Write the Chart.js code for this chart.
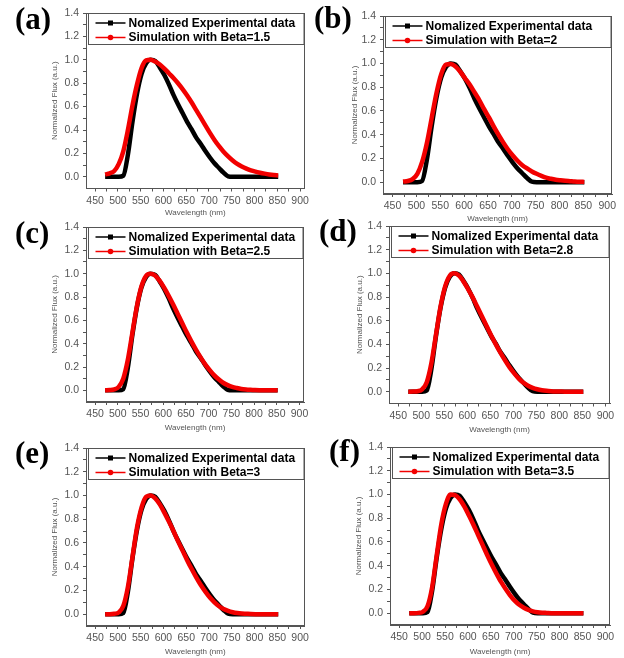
<!DOCTYPE html>
<html>
<head>
<meta charset="utf-8">
<script src="https://cdn.jsdelivr.net/npm/chart.js@4.4.1/dist/chart.umd.min.js"></script>
<style>
  html, body { margin: 0; padding: 0; background: #fff; }
  #wrap { position: relative; width: 624px; height: 658px; overflow: hidden; }
  #wrap canvas { position: absolute; }
  .tag { position: absolute; font: bold 31px "Liberation Serif", "Times New Roman", serif; color: #000; line-height: 30px; }
</style>
</head>
<body>
<div id="wrap"></div>
<script>
// wavelength grid (nm)
const wavelengths = [472, 482, 492, 502, 512, 522, 532, 542, 552, 562, 572, 582, 592, 602, 612, 622, 632, 642, 652,
  662, 672, 682, 692, 702, 712, 722, 732, 742, 752, 762, 772, 782, 792, 802, 812, 822, 832, 842, 852]

// normalized experimental data (same in every panel)
const experimental = [0, 0, 0, 0, 0.01, 0.19, 0.47, 0.71, 0.88, 0.97, 1.0, 0.99, 0.935, 0.87, 0.79, 0.70, 0.62, 0.545, 0.47,
  0.405, 0.335, 0.28, 0.22, 0.165, 0.115, 0.075, 0.035, 0.004, 0, 0, 0, 0, 0, 0, 0, 0, 0, 0, 0]

// simulations
const simBeta15 = [0.02, 0.03, 0.05, 0.11, 0.22, 0.40, 0.61, 0.79, 0.93, 0.995, 1.0, 0.985, 0.96, 0.925, 0.885, 0.845, 0.80, 0.75, 0.695,
  0.635, 0.57, 0.505, 0.44, 0.375, 0.315, 0.262, 0.215, 0.175, 0.14, 0.11, 0.088, 0.07, 0.055, 0.044, 0.035, 0.027, 0.02, 0.015, 0.012]
const simBeta2 = [0.005, 0.01, 0.025, 0.07, 0.17, 0.33, 0.54, 0.75, 0.91, 0.99, 0.995, 0.975, 0.93, 0.875, 0.82, 0.755, 0.69, 0.615, 0.545,
  0.47, 0.40, 0.335, 0.275, 0.225, 0.18, 0.143, 0.115, 0.09, 0.07, 0.053, 0.038, 0.028, 0.02, 0.015, 0.011, 0.008, 0.005, 0.003, 0.002]
const simBeta25 = [0, 0.002, 0.008, 0.03, 0.10, 0.26, 0.49, 0.72, 0.89, 0.98, 1.0, 0.985, 0.94, 0.88, 0.81, 0.735, 0.655, 0.575, 0.495,
  0.42, 0.35, 0.285, 0.225, 0.175, 0.13, 0.095, 0.065, 0.045, 0.03, 0.02, 0.012, 0.007, 0.004, 0.002, 0.001, 0.001, 0, 0, 0]
const simBeta28 = [0, 0.001, 0.004, 0.02, 0.08, 0.24, 0.48, 0.72, 0.89, 0.98, 1.0, 0.98, 0.93, 0.865, 0.795, 0.715, 0.635, 0.555, 0.475,
  0.40, 0.33, 0.265, 0.205, 0.155, 0.11, 0.075, 0.05, 0.032, 0.02, 0.012, 0.007, 0.004, 0.002, 0.001, 0, 0, 0, 0, 0]
const simBeta3 = [0, 0, 0.003, 0.015, 0.07, 0.23, 0.48, 0.73, 0.90, 0.99, 1.0, 0.975, 0.925, 0.855, 0.78, 0.70, 0.615, 0.535, 0.455,
  0.38, 0.31, 0.245, 0.19, 0.14, 0.10, 0.067, 0.043, 0.027, 0.016, 0.009, 0.005, 0.003, 0.001, 0, 0, 0, 0, 0, 0]
const simBeta35 = [0, 0, 0.002, 0.012, 0.06, 0.22, 0.49, 0.75, 0.92, 1.0, 0.995, 0.96, 0.90, 0.825, 0.745, 0.66, 0.575, 0.49, 0.41,
  0.335, 0.265, 0.205, 0.15, 0.105, 0.07, 0.045, 0.027, 0.015, 0.008, 0.004, 0.002, 0, 0, 0, 0, 0, 0, 0, 0]

const betaValues = ['1.5', '2', '2.5', '2.8', '3', '3.5']
const simSeries = [simBeta15, simBeta2, simBeta25, simBeta28, simBeta3, simBeta35]
const panelTags = ['(a)', '(b)', '(c)', '(d)', '(e)', '(f)']

const xTicks = [450, 475, 500, 525, 550, 575, 600, 625, 650, 675, 700, 725, 750, 775, 800, 825, 850, 875, 900]
const yTicks = [0, 0.1, 0.2, 0.3, 0.4, 0.5, 0.6, 0.7, 0.8, 0.9, 1.0, 1.1, 1.2, 1.3, 1.4]

// page layout of each panel: plot box [left, top, right, bottom], axis title spots, tag spot
const layoutBoxes = [
  { col: 0, area: [86, 13, 305, 188.5], yTitleX: 55, xTitleY: 213, tag: [15, 4] },
  { col: 1, area: [383, 16, 612, 194], yTitleX: 355, xTitleY: 219, tag: [314, 3] },
  { col: 0, area: [86, 227, 304, 402], yTitleX: 55, xTitleY: 428, tag: [15, 218] },
  { col: 1, area: [389, 226, 610, 403.5], yTitleX: 360, xTitleY: 430, tag: [319, 216] },
  { col: 0, area: [86, 448, 305, 626], yTitleX: 55, xTitleY: 652, tag: [15, 438] },
  { col: 1, area: [390, 447, 610, 625], yTitleX: 359, xTitleY: 652, tag: [329, 436] },
]

const axisGrey = '#555'
const textGrey = '#555'

// frame round the plot + boxed legend in the top of the plot
const frameLegend = {
  id: 'frameLegend',
  afterDatasetsDraw(chart) {
    const { ctx, chartArea: a } = chart
    ctx.save()
    ctx.strokeStyle = axisGrey
    ctx.lineWidth = 1
    ctx.strokeRect(Math.round(a.left) + 0.5, Math.round(a.top) + 0.5, Math.round(a.width) - 1, Math.round(a.height) - 1)

    const bx = Math.round(a.left) + 2.5, by = Math.round(a.top) + 0.5
    ctx.strokeRect(bx, by, Math.round(a.right) - 1 - bx, 31)

    chart.data.datasets.forEach((ds, i) => {
      const yy = by + 9.5 + i * 14.5
      ctx.strokeStyle = ds.borderColor
      ctx.fillStyle = ds.borderColor
      ctx.lineWidth = 1.5
      ctx.beginPath()
      ctx.moveTo(bx + 7, yy)
      ctx.lineTo(bx + 37, yy)
      ctx.stroke()
      if (i === 0) {
        ctx.fillRect(bx + 19.5, yy - 2.5, 5, 5)
      } else {
        ctx.beginPath()
        ctx.arc(bx + 22, yy, 2.8, 0, Math.PI * 2)
        ctx.fill()
      }
      ctx.fillStyle = '#000'
      ctx.font = 'bold 12px "Liberation Sans", Arial, sans-serif'
      ctx.textBaseline = 'middle'
      ctx.fillText(ds.label, bx + 40, yy + 0.5)
    })
    ctx.restore()
  }
}

const wrap = document.getElementById('wrap')

layoutBoxes.forEach((p, k) => {
  const cx = p.col * 312, cw = 312
  const cy = p.area[1] - 14
  const ch = Math.round(p.xTitleY + 8 - cy)

  const canvas = document.createElement('canvas')
  canvas.width = cw
  canvas.height = ch
  canvas.style.left = cx + 'px'
  canvas.style.top = cy + 'px'
  wrap.appendChild(canvas)

  const tag = document.createElement('div')
  tag.className = 'tag'
  tag.textContent = panelTags[k]
  tag.style.left = p.tag[0] + 'px'
  tag.style.top = p.tag[1] + 'px'
  wrap.appendChild(tag)

  const toPoints = ys => wavelengths.map((x, i) => ({ x: x, y: ys[i] }))

  new Chart(canvas, {
    type: 'line',
    data: {
      datasets: [
        {
          label: 'Nomalized Experimental data',
          data: toPoints(experimental),
          borderColor: '#000000',
          borderWidth: 4.5,
          order: 2,
        },
        {
          label: 'Simulation with Beta=' + betaValues[k],
          data: toPoints(simSeries[k]),
          borderColor: '#f20000',
          borderWidth: 4.5,
          order: 1,
        }
      ]
    },
    options: {
      responsive: false,
      animation: false,
      devicePixelRatio: 1,
      layout: { padding: { top: 14, right: cx + cw - p.area[2], left: 0, bottom: 0 } },
      elements: {
        point: { radius: 0 },
        line: { cubicInterpolationMode: 'monotone' }
      },
      plugins: {
        legend: { display: false },
        tooltip: { enabled: false }
      },
      scales: {
        x: {
          type: 'linear',
          min: 430,
          max: 910,
          afterBuildTicks: s => { s.ticks = xTicks.map(v => ({ value: v })) },
          afterFit: s => { s.height = cy + ch - p.area[3] },
          border: { display: true, color: axisGrey },
          grid: { drawOnChartArea: false, drawTicks: true, tickLength: 3, color: axisGrey },
          ticks: {
            autoSkip: false,
            maxRotation: 0,
            padding: 3,
            color: textGrey,
            font: { family: '"Liberation Sans", Arial, sans-serif', size: 10.5 },
            callback: v => (v % 50 === 0 ? String(v) : '')
          },
          title: {
            display: true,
            text: 'Wavelength (nm)',
            color: textGrey,
            font: { family: '"Liberation Sans", Arial, sans-serif', size: 8 },
            padding: { top: 0, bottom: 3.2 }
          }
        },
        y: {
          min: -0.1,
          max: 1.4,
          afterBuildTicks: s => { s.ticks = yTicks.map(v => ({ value: v })) },
          afterFit: s => { s.width = p.area[0] - cx },
          border: { display: true, color: axisGrey },
          grid: { drawOnChartArea: false, drawTicks: true, tickLength: 3, color: axisGrey },
          ticks: {
            autoSkip: false,
            padding: 4,
            color: textGrey,
            font: { family: '"Liberation Sans", Arial, sans-serif', size: 10.5 },
            callback: v => (Math.round(v * 10) % 2 === 0 ? v.toFixed(1) : '')
          },
          title: {
            display: true,
            text: 'Normalized Flux (a.u.)',
            color: textGrey,
            font: { family: '"Liberation Sans", Arial, sans-serif', size: 8 },
            padding: { top: p.yTitleX - cx - 4.8, bottom: 0 }
          }
        }
      }
    },
    plugins: [frameLegend]
  })
})
</script>
</body>
</html>
